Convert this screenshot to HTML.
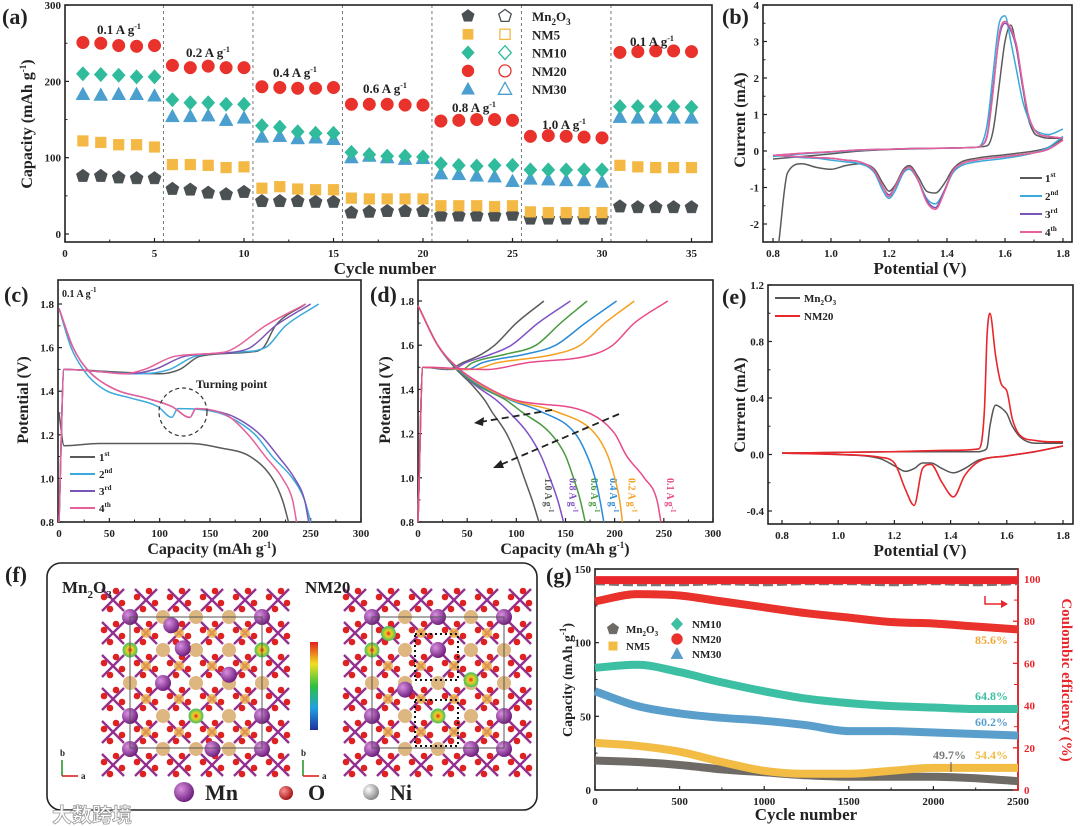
<!DOCTYPE html>
<html><head><meta charset="utf-8">
<style>
html,body{margin:0;padding:0;background:#fff;}
svg{display:block;}
</style></head>
<body>
<svg id="fig" width="1080" height="826" viewBox="0 0 1080 826" xmlns="http://www.w3.org/2000/svg">
<defs>
<linearGradient id="cbar" x1="0" y1="0" x2="0" y2="1">
<stop offset="0" stop-color="#e02020"/><stop offset="0.25" stop-color="#f0e020"/><stop offset="0.5" stop-color="#30c040"/><stop offset="0.75" stop-color="#20a0e0"/><stop offset="1" stop-color="#2030a0"/>
</linearGradient>
<radialGradient id="gMn" cx="0.35" cy="0.35" r="0.7"><stop offset="0" stop-color="#d890e0"/><stop offset="1" stop-color="#6a1a78"/></radialGradient>
<radialGradient id="gO" cx="0.35" cy="0.35" r="0.7"><stop offset="0" stop-color="#ff9090"/><stop offset="1" stop-color="#a01010"/></radialGradient>
<radialGradient id="gNi" cx="0.35" cy="0.35" r="0.7"><stop offset="0" stop-color="#ffffff"/><stop offset="1" stop-color="#808080"/></radialGradient>
<radialGradient id="gGreen" cx="0.5" cy="0.5" r="0.5"><stop offset="0" stop-color="#e02020"/><stop offset="0.4" stop-color="#f0d020"/><stop offset="1" stop-color="#40c060"/></radialGradient>
</defs>
</svg>
<script>
// ---------- Panel (a) data ----------
const aCycles = [1,2,3,4,5,6,7,8,9,10,11,12,13,14,15,16,17,18,19,20,21,22,23,24,25,26,27,28,29,30,31,32,33,34,35];
const aMn2O3 = [76,76,74,73,73,59,58,54,52,55,43,43,43,42,42,28,29,30,30,30,24,24,24,24,25,20,20,20,20,20,36,35,35,35,35];
const aNM5 = [122,120,117,117,114,91,91,90,87,88,60,62,59,58,58,47,46,46,46,46,37,37,37,36,37,29,28,28,28,28,90,88,87,87,87];
const aNM10 = [210,209,208,206,206,176,172,172,170,170,142,140,134,132,132,107,104,102,102,101,92,90,89,90,90,84,84,84,84,84,167,167,167,167,166];
const aNM20 = [251,250,247,246,247,221,218,220,218,218,193,192,191,191,192,170,170,170,169,169,148,149,150,150,149,128,129,128,127,126,238,239,240,240,239];
const aNM30 = [183,182,183,183,181,154,154,155,149,152,127,128,125,126,124,100,102,100,98,99,79,78,76,75,69,72,71,70,70,68,153,152,152,152,152];
const aRates = ["0.1","0.2","0.4","0.6","0.8","1.0","0.1"];
const aXTicks = [0,5,10,15,20,25,30,35];
const aYTicks = [0,100,200,300];

// ---------- Panel (b) data ----------
const bUpV = [0.8,0.9,1.0,1.1,1.2,1.3,1.4,1.5,1.52,1.54,1.56,1.58,1.6,1.62,1.64,1.66,1.68,1.7,1.72,1.75,1.8];
const bLowV = [1.8,1.75,1.7,1.6,1.5,1.45,1.42,1.39,1.36,1.33,1.3,1.27,1.25,1.22,1.2,1.18,1.15,1.1,1.05,1.0,0.95,0.9,0.85,0.82];
const bUp1 = [-0.22,-0.15,-0.08,0.0,0.04,0.06,0.08,0.1,0.12,0.15,0.6,1.8,3.0,3.45,2.8,1.8,0.9,0.5,0.4,0.35,0.35];
const bLow1 = [0.35,0.1,0.0,-0.1,-0.2,-0.3,-0.5,-0.9,-1.15,-1.1,-0.7,-0.4,-0.5,-0.95,-1.1,-0.9,-0.5,-0.35,-0.4,-0.5,-0.45,-0.35,-0.6,-2.5];
const bUp2 = [-0.15,-0.08,-0.03,0.02,0.05,0.07,0.08,0.1,0.2,0.8,2.2,3.5,3.7,3.0,2.2,1.4,0.9,0.6,0.5,0.45,0.6];
const bLow2 = [0.4,0.1,-0.05,-0.2,-0.3,-0.4,-0.6,-1.1,-1.45,-1.3,-0.8,-0.5,-0.6,-1.1,-1.3,-1.1,-0.6,-0.35,-0.3,-0.25,-0.2,-0.18,-0.15,-0.13];
const bUp3 = [-0.12,-0.06,-0.02,0.03,0.05,0.07,0.08,0.1,0.15,0.5,1.8,3.1,3.5,3.3,2.8,1.8,1.0,0.6,0.45,0.4,0.35];
const bLow3 = [0.3,0.05,-0.05,-0.15,-0.25,-0.35,-0.55,-1.1,-1.55,-1.35,-0.8,-0.45,-0.55,-1.0,-1.2,-1.0,-0.55,-0.3,-0.25,-0.2,-0.18,-0.16,-0.14,-0.12];
const bUp4 = [-0.12,-0.06,-0.02,0.03,0.05,0.07,0.08,0.1,0.15,0.45,1.7,3.2,3.55,3.35,2.9,1.9,1.0,0.6,0.45,0.4,0.35];
const bLow4 = [0.3,0.05,-0.05,-0.15,-0.25,-0.35,-0.55,-1.15,-1.6,-1.4,-0.8,-0.45,-0.55,-1.0,-1.25,-1.0,-0.55,-0.3,-0.25,-0.2,-0.18,-0.16,-0.14,-0.12];

// ---------- Panel (c) data ----------
const cDisV = [1.78,1.6,1.5,1.45,1.4,1.37,1.33,1.28,1.32,1.31,1.28,1.2,1.1,1.0,0.9,0.8];
const cDis2 = [0,12,24,33,48,70,98,112,118,150,170,195,212,232,244,250];
const cDis3 = [0,14,28,40,60,85,112,130,136,155,175,200,218,234,244,248];
const cDis4 = [0,14,28,40,60,85,112,130,136,155,170,188,205,222,232,236];
const cDis1V = [1.3,1.15,1.16,1.16,1.14,1.1,1.0,0.9,0.8];
const cDis1 = [0,5,40,130,160,190,212,222,228];
const cChV = [0.8,1.5,1.49,1.48,1.5,1.56,1.58,1.6,1.7,1.8];
const cCh1 = [0,5,50,100,120,140,190,203,215,245];
const cCh2 = [0,5,40,80,110,135,180,205,225,258];
const cCh3 = [0,5,40,70,95,125,175,190,215,250];
const cCh4 = [0,5,40,65,85,115,165,175,205,245];

// ---------- Panel (d) data ----------
const dDisV = [1.78,1.6,1.5,1.42,1.35,1.3,1.2,1.1,1.0,0.9,0.8];
const dDis10 = [0,20,37,55,68,75,90,100,108,116,123];
const dDis08 = [0,20,38,58,80,92,112,125,134,142,148];
const dDis06 = [0,20,38,60,90,105,135,150,158,165,170];
const dDis04 = [0,20,39,62,95,125,160,172,180,185,189];
const dDis02 = [0,20,40,64,97,140,180,193,200,205,208];
const dDis01 = [0,20,40,66,100,170,200,212,230,243,247];
const dChV = [0.8,1.5,1.49,1.52,1.56,1.6,1.7,1.8];
const dCh10 = [0,5,30,45,65,78,100,128];
const dCh08 = [0,5,35,48,75,95,122,155];
const dCh06 = [0,5,45,55,90,120,145,172];
const dCh04 = [0,5,50,65,110,140,170,202];
const dCh02 = [0,5,55,80,140,165,190,220];
const dCh01 = [0,5,70,110,180,198,220,254];
const dRates = ["1.0","0.8","0.6","0.4","0.2","0.1"];

// ---------- Panel (e) data ----------
const eUpV = [0.8,1.0,1.2,1.4,1.5,1.52,1.53,1.54,1.56,1.58,1.6,1.62,1.65,1.7,1.75,1.8];
const eUpNM20 = [0.01,0.015,0.02,0.03,0.04,0.3,0.85,1.0,0.7,0.5,0.45,0.25,0.13,0.1,0.09,0.09];
const eUpMn = [0.01,0.015,0.02,0.02,0.02,0.03,0.05,0.2,0.35,0.33,0.29,0.2,0.12,0.08,0.08,0.08];
const eLowV = [1.8,1.7,1.6,1.5,1.45,1.41,1.37,1.33,1.3,1.27,1.24,1.2,1.15,1.0,0.8];
const eLowNM20 = [0.06,0.02,-0.01,-0.05,-0.15,-0.3,-0.2,-0.07,-0.1,-0.36,-0.25,-0.06,-0.02,0.0,0.01];
const eLowMn = [0.06,0.02,-0.01,-0.04,-0.1,-0.13,-0.1,-0.06,-0.06,-0.1,-0.12,-0.08,-0.03,0.0,0.01];

// ---------- Panel (g) data ----------
const gCycles = [0,250,500,750,1000,1250,1500,1750,2000,2250,2500];
const gNM20 = [128,133,132,128,124,120,117,114,113,111,109];
const gNM10 = [83,85,80,73,67,62,59,57,56,55,55];
const gNM30 = [67,57,52,49,47,44,40,40,39,38,37];
const gNM5 = [32,30,26,19,13,11,11,13,15,15,15];
const gMn2O3 = [20,19,17,14,12,10,9,9,9,8,6];
const gCE20 = [99.5,99.5,99.5,99.5,99.5,99.5,99.5,99.5,99.5,99.5,99.5];
const gCEMn = [98,97.5,97.5,98,97.5,98,98,97.5,98,97.5,98];

const NS = "http://www.w3.org/2000/svg";
const svg = document.getElementById('fig');
function mk(tag, attrs, name, parent){
  const el = document.createElementNS(NS, tag);
  for (const k in attrs) el.setAttribute(k, attrs[k]);
  
  
  (parent || svg).appendChild(el);
  return el;
}
function txt(x, y, html, fs, name, opts){
  opts = opts || {};
  const a = {x:x, y:y, 'font-family':'"Liberation Serif", serif', 'font-weight':'bold', 'font-size':fs, fill:opts.fill||'#222'};
  if (opts.anchor) a['text-anchor'] = opts.anchor;
  if (opts.rot !== undefined) a.transform = `rotate(${opts.rot} ${x} ${y})`;
  const el = mk('text', a, name);
  el.innerHTML = html;
  return el;
}
const SUP1 = '<tspan dy="-6" font-size="9">-1</tspan>';
// monotone cubic (Fritsch-Carlson) in x; works for increasing or decreasing x
function smooth(p){
  const n = p.length;
  if (n < 3) return 'M'+p.map(q=>q[0].toFixed(1)+','+q[1].toFixed(1)).join('L');
  const dx=[], dy=[], m=[];
  for (let i=0;i<n-1;i++){ dx.push(p[i+1][0]-p[i][0]); dy.push(p[i+1][1]-p[i][1]); m.push(dx[i]===0?0:dy[i]/dx[i]); }
  const t=[m[0]];
  for (let i=1;i<n-1;i++){ t.push(m[i-1]*m[i]<=0 ? 0 : (m[i-1]+m[i])/2); }
  t.push(m[n-2]);
  for (let i=0;i<n-1;i++){
    if (m[i]===0){ t[i]=0; t[i+1]=0; continue; }
    const a=t[i]/m[i], b=t[i+1]/m[i], h=a*a+b*b;
    if (h>9){ const s=3/Math.sqrt(h); t[i]=s*a*m[i]; t[i+1]=s*b*m[i]; }
  }
  let d = `M${p[0][0].toFixed(1)},${p[0][1].toFixed(1)}`;
  for (let i=0;i<n-1;i++){
    const h = dx[i]/3;
    if (Math.abs(dx[i])<0.01){ d+=`L${p[i+1][0].toFixed(1)},${p[i+1][1].toFixed(1)}`; continue; }
    d += `C${(p[i][0]+h).toFixed(1)},${(p[i][1]+t[i]*h).toFixed(1)} ${(p[i+1][0]-h).toFixed(1)},${(p[i+1][1]-t[i+1]*h).toFixed(1)} ${p[i+1][0].toFixed(1)},${p[i+1][1].toFixed(1)}`;
  }
  return d;
}
function pts(xs, ys, X, Y){ return xs.map((v,i)=>[X(v), Y(ys[i])]); }
function axes(o){
  const [l,t,r,b] = o.box;
  mk('rect', {x:l, y:t, width:r-l, height:b-t, fill:'none', stroke:'#222', 'stroke-width':1.6}, o.name+'-frame');
  o.xticks.forEach((v,i)=>{
    const x = o.X(v);
    mk('line', {x1:x, y1:b, x2:x, y2:b-4, stroke:'#222', 'stroke-width':1.2}, o.name+'-x-tick');
    txt(x, b+15, o.xlab ? o.xlab[i] : String(v), 11, o.name+'-x-tick-label', {anchor:'middle'});
    if (i < o.xticks.length-1){
      const xm = (x + o.X(o.xticks[i+1]))/2;
      mk('line', {x1:xm, y1:b, x2:xm, y2:b-2.5, stroke:'#222', 'stroke-width':1}, o.name+'-x-minor-tick');
    }
  });
  o.yticks.forEach((v,i)=>{
    const y = o.Y(v);
    mk('line', {x1:l, y1:y, x2:l+4, y2:y, stroke:'#222', 'stroke-width':1.2}, o.name+'-y-tick');
    txt(l-4, y+4, o.ylab ? o.ylab[i] : String(v), 11, o.name+'-y-tick-label', {anchor:'end'});
    if (i < o.yticks.length-1){
      const ym = (y + o.Y(o.yticks[i+1]))/2;
      mk('line', {x1:l, y1:ym, x2:l+2.5, y2:ym, stroke:'#222', 'stroke-width':1}, o.name+'-y-minor-tick');
    }
  });
}
function marker(shape, x, y, s, color, filled, name){
  const f = filled ? color : 'none';
  const a = {fill:f, stroke:color, 'stroke-width': filled?0.5:1.3};
  let el;
  if (shape==='circle') el = mk('circle', Object.assign({cx:x, cy:y, r:s}, a), name);
  else if (shape==='square') el = mk('rect', Object.assign({x:x-s*0.85, y:y-s*0.85, width:s*1.7, height:s*1.7}, a), name);
  else {
    let p=[];
    if (shape==='diamond') p=[[0,-1.15],[1.05,0],[0,1.15],[-1.05,0]];
    if (shape==='triangle') p=[[0,-1.15],[1.1,0.85],[-1.1,0.85]];
    if (shape==='pentagon') for(let k=0;k<5;k++){const an=-Math.PI/2+k*2*Math.PI/5; p.push([Math.cos(an)*1.1,Math.sin(an)*1.1]);}
    el = mk('polygon', Object.assign({points:p.map(q=>`${x+q[0]*s},${y+q[1]*s}`).join(' ')}, a), name);
  }
  return el;
}

// ================= Panel (a) =================
const Xa = v=>65+v*17.9, Ya = v=>234-v*0.763;
[5.5,10.5,15.5,20.5,25.5,30.5].forEach(v=>{
  mk('line', {x1:Xa(v), y1:5, x2:Xa(v), y2:242, stroke:'#777', 'stroke-width':1, 'stroke-dasharray':'3,3'}, 'rate-divider');
});
axes({name:'panel-a', box:[65,5,712,242], X:Xa, Y:Ya, xticks:aXTicks, yticks:aYTicks});
const aSeries = [[aMn2O3,'pentagon','#4b5053','mn2o3'],[aNM5,'square','#f4b944','nm5'],[aNM30,'triangle','#4a9fcf','nm30'],[aNM10,'diamond','#2fbb9c','nm10'],[aNM20,'circle','#e8322b','nm20']];
aSeries.forEach(s=>{
  aCycles.forEach((c,i)=>{ marker(s[1], Xa(c), Ya(s[0][i]), 6.3, s[2], true, 'point-'+s[3]); });
});
const aRateX = [97,186,273,363,452,542,630], aRateY = [34,57,77,93,112,129,46];
aRates.forEach((r,i)=> txt(aRateX[i], aRateY[i], r+' A g'+'<tspan dy="-5" font-size="8">-1</tspan>', 13, 'rate-label'));
const legA = [['pentagon','#4b5053','Mn<tspan dy="4" font-size="9">2</tspan><tspan dy="-4">O</tspan><tspan dy="4" font-size="9">3</tspan>'],['square','#f4b944','NM5'],['diamond','#2fbb9c','NM10'],['circle','#e8322b','NM20'],['triangle','#4a9fcf','NM30']];
legA.forEach((e,i)=>{
  const y = 16+i*18.3;
  marker(e[0], 468, y, 6, e[1], true, 'legend-marker-filled');
  marker(e[0], 505, y, 6, e[1], false, 'legend-marker-open');
  txt(532, y+5, e[2], 13, 'legend-label');
});
txt(2, 24, '(a)', 22, 'panel-label-a');
txt(32, 124, 'Capacity (mAh g'+SUP1+'<tspan dy="6">)</tspan>', 16, 'y-axis-title-a', {anchor:'middle', rot:-90});
txt(385, 274, 'Cycle number', 17, 'x-axis-title-a', {anchor:'middle'});

// ================= Panel (b) =================
const Xb = v=>773+(v-0.8)*290, Yb = v=>151-v*36.5;
axes({name:'panel-b', box:[763,5,1072,242], X:Xb, Y:Yb, xticks:[0.8,1.0,1.2,1.4,1.6,1.8], xlab:['0.8','1.0','1.2','1.4','1.6','1.8'], yticks:[-2,-1,0,1,2,3,4]});
const bSets = [[bUp1,bLow1,'#5a5a5a','cv-cycle-1'],[bUp2,bLow2,'#3ba9d9','cv-cycle-2'],[bUp3,bLow3,'#7a55b8','cv-cycle-3'],[bUp4,bLow4,'#e6609a','cv-cycle-4']];
bSets.forEach(s=>{
  mk('path', {d:smooth(pts(bUpV,s[0],Xb,Yb)), fill:'none', stroke:s[2], 'stroke-width':1.5}, s[3]+'-anodic');
  mk('path', {d:smooth(pts(bLowV,s[1],Xb,Yb)), fill:'none', stroke:s[2], 'stroke-width':1.5}, s[3]+'-cathodic');
});
['1<tspan dy="-5" font-size="7">st</tspan>','2<tspan dy="-5" font-size="7">nd</tspan>','3<tspan dy="-5" font-size="7">rd</tspan>','4<tspan dy="-5" font-size="7">th</tspan>'].forEach((l,i)=>{
  const y = 178+i*18;
  mk('line', {x1:1020, y1:y, x2:1042, y2:y, stroke:bSets[i][2], 'stroke-width':2}, 'legend-line-b');
  txt(1045, y+4, l, 11, 'legend-label-b');
});
txt(722, 24, '(b)', 22, 'panel-label-b');
txt(745, 120, 'Current  (mA)', 16, 'y-axis-title-b', {anchor:'middle', rot:-90});
txt(920, 274, 'Potential (V)', 17, 'x-axis-title-b', {anchor:'middle'});

// ================= Panel (c) =================
const Xc = v=>59+v*1.0067, Yc = v=>522-(v-0.8)*218;
axes({name:'panel-c', box:[58,280,361,522], X:Xc, Y:Yc, xticks:[0,50,100,150,200,250,300], yticks:[0.8,1.0,1.2,1.4,1.6,1.8], ylab:['0.8','1.0','1.2','1.4','1.6','1.8']});
const cCols = ['#5a5a5a','#3ba9d9','#7a55b8','#e6609a'];
mk('path', {d:smooth(pts(cDis1,cDis1V,Xc,Yc)), fill:'none', stroke:cCols[0], 'stroke-width':1.5}, 'discharge-cycle-1');
[[cDis2,1],[cDis3,2],[cDis4,3]].forEach(s=> mk('path', {d:smooth(pts(s[0],cDisV,Xc,Yc)), fill:'none', stroke:cCols[s[1]], 'stroke-width':1.5}, 'discharge-cycle-'+(s[1]+1)));
[[cCh1,0],[cCh2,1],[cCh3,2],[cCh4,3]].forEach(s=> mk('path', {d:smooth(pts(s[0],cChV,Xc,Yc)), fill:'none', stroke:cCols[s[1]], 'stroke-width':1.5}, 'charge-cycle-'+(s[1]+1)));
mk('circle', {cx:183, cy:412, r:24, fill:'none', stroke:'#333', 'stroke-width':1.2, 'stroke-dasharray':'4,3'}, 'turning-point-circle');
txt(196, 388, 'Turning point', 12, 'turning-point-label');
txt(62, 297, '0.1 A g<tspan dy="-5" font-size="7">-1</tspan>', 10, 'rate-label-c');
['1<tspan dy="-5" font-size="7">st</tspan>','2<tspan dy="-5" font-size="7">nd</tspan>','3<tspan dy="-5" font-size="7">rd</tspan>','4<tspan dy="-5" font-size="7">th</tspan>'].forEach((l,i)=>{
  const y = 457+i*17;
  mk('line', {x1:70, y1:y, x2:95, y2:y, stroke:cCols[i], 'stroke-width':2}, 'legend-line-c');
  txt(99, y+4, l, 11, 'legend-label-c');
});
txt(4, 302, '(c)', 22, 'panel-label-c');
txt(28, 400, 'Potential (V)', 16, 'y-axis-title-c', {anchor:'middle', rot:-90});
txt(212, 554, 'Capacity (mAh g'+SUP1+'<tspan dy="6">)</tspan>', 16, 'x-axis-title-c', {anchor:'middle'});

// ================= Panel (d) =================
const Xd = v=>418+v*0.9833, Yd = v=>522-(v-0.8)*221;
axes({name:'panel-d', box:[418,280,713,522], X:Xd, Y:Yd, xticks:[0,50,100,150,200,250,300], yticks:[0.8,1.0,1.2,1.4,1.6,1.8], ylab:['0.8','1.0','1.2','1.4','1.6','1.8']});
const dCols = ['#5a5a5a','#8050c8','#4a9a40','#2a8ad8','#f5a020','#e84a8a'];
const dDis = [dDis10,dDis08,dDis06,dDis04,dDis02,dDis01], dCh = [dCh10,dCh08,dCh06,dCh04,dCh02,dCh01];
dRates.forEach((r,i)=>{
  mk('path', {d:smooth(pts(dDis[i],dDisV,Xd,Yd)), fill:'none', stroke:dCols[i], 'stroke-width':1.5}, 'discharge-'+r.replace('.','p'));
  mk('path', {d:smooth(pts(dCh[i],dChV,Xd,Yd)), fill:'none', stroke:dCols[i], 'stroke-width':1.5}, 'charge-'+r.replace('.','p'));
  const x = Xd(dDis[i][10])+6, y = 478;
  txt(x, y, r+' A g<tspan dy="-4" font-size="7">-1</tspan>', 10, 'rate-label-d', {fill:dCols[i], rot:90});
});
mk('line', {x1:552, y1:410, x2:480, y2:422, stroke:'#222', 'stroke-width':1.8, 'stroke-dasharray':'7,4'}, 'trend-arrow-1');
mk('polygon', {points:'474,423 484,417 483,426'}, 'trend-arrow-1-head').setAttribute('fill','#222');
mk('line', {x1:619, y1:414, x2:500, y2:465, stroke:'#222', 'stroke-width':1.8, 'stroke-dasharray':'7,4'}, 'trend-arrow-2');
mk('polygon', {points:'493,468 501,460 504,468'}, 'trend-arrow-2-head').setAttribute('fill','#222');
txt(370, 302, '(d)', 22, 'panel-label-d');
txt(390, 400, 'Potential (V)', 16, 'y-axis-title-d', {anchor:'middle', rot:-90});
txt(565, 554, 'Capacity (mAh g'+SUP1+'<tspan dy="6">)</tspan>', 16, 'x-axis-title-d', {anchor:'middle'});

// ================= Panel (e) =================
const Xe = v=>782+(v-0.8)*281, Ye = v=>454.5-v*141.25;
axes({name:'panel-e', box:[768,285,1073,524], X:Xe, Y:Ye, xticks:[0.8,1.0,1.2,1.4,1.6,1.8], xlab:['0.8','1.0','1.2','1.4','1.6','1.8'], yticks:[-0.4,0,0.4,0.8,1.2], ylab:['-0.4','0.0','0.4','0.8','1.2']});
mk('path', {d:smooth(pts(eUpV,eUpMn,Xe,Ye)), fill:'none', stroke:'#555', 'stroke-width':1.5}, 'cv-mn2o3-anodic');
mk('path', {d:smooth(pts(eLowV,eLowMn,Xe,Ye)), fill:'none', stroke:'#555', 'stroke-width':1.5}, 'cv-mn2o3-cathodic');
mk('path', {d:smooth(pts(eUpV,eUpNM20,Xe,Ye)), fill:'none', stroke:'#e8262b', 'stroke-width':1.6}, 'cv-nm20-anodic');
mk('path', {d:smooth(pts(eLowV,eLowNM20,Xe,Ye)), fill:'none', stroke:'#e8262b', 'stroke-width':1.6}, 'cv-nm20-cathodic');
mk('line', {x1:775, y1:298, x2:800, y2:298, stroke:'#555', 'stroke-width':2}, 'legend-line-mn2o3');
txt(804, 302, 'Mn<tspan dy="3" font-size="7">2</tspan><tspan dy="-3">O</tspan><tspan dy="3" font-size="7">3</tspan>', 11, 'legend-label-mn2o3');
mk('line', {x1:775, y1:316, x2:800, y2:316, stroke:'#e8262b', 'stroke-width':2}, 'legend-line-nm20');
txt(804, 320, 'NM20', 11, 'legend-label-nm20');
txt(722, 304, '(e)', 22, 'panel-label-e');
txt(745, 405, 'Current  (mA)', 16, 'y-axis-title-e', {anchor:'middle', rot:-90});
txt(920, 556, 'Potential (V)', 17, 'x-axis-title-e', {anchor:'middle'});

// ================= Panel (f) =================
mk('rect', {x:47, y:563, width:490, height:247, rx:14, fill:'#fff', stroke:'#222', 'stroke-width':1.6}, 'structure-box');
function crystal(cl, ct, mnList, greenList, name){
  const g = mk('g', {}, name);
  const s = 33;
  for (let i=-1;i<=4;i++) for (let j=-1;j<=4;j++){
    const x = cl+s*i+16, y = ct+s*j+16;
    mk('line', {x1:x-11, y1:y-11, x2:x+11, y2:y+11, stroke:'#93308f', 'stroke-width':2.4}, 'mn-o-bond', g);
    mk('line', {x1:x+11, y1:y-11, x2:x-11, y2:y+11, stroke:'#93308f', 'stroke-width':2.4}, 'mn-o-bond', g);
  }
  for (let i=-1;i<=4;i++) for (let j=-1;j<=4;j++){
    const x = cl+s*i+16, y = ct+s*j+16;
    [[-9,-3],[9,3],[-3,9],[3,-9]].forEach(o=> mk('circle', {cx:x+o[0], cy:y+o[1], r:3.3, fill:'#de2222'}, 'oxygen-atom', g));
  }
  for (let i=0;i<=4;i++) for (let j=0;j<=4;j++){
    mk('circle', {cx:cl+s*i, cy:ct+s*j, r:7, fill:'#ddb680'}, 'cation-site', g);
  }
  for (let i=0;i<4;i++) for (let j=0;j<4;j++){
    mk('circle', {cx:cl+s*i+16, cy:ct+s*j+16, r:5, fill:'#f0b040', opacity:0.8}, 'cation-site', g);
  }
  mnList.forEach(p=> mk('circle', {cx:cl+p[0]*s, cy:ct+p[1]*s, r:8, fill:'url(#gMn)'}, 'mn-atom', g));
  greenList.forEach(p=> mk('circle', {cx:cl+p[0]*s, cy:ct+p[1]*s, r:7.5, fill:'url(#gGreen)'}, 'ni-site', g));
  mk('rect', {x:cl, y:ct, width:132, height:131, fill:'none', stroke:'#555', 'stroke-width':1}, 'unit-cell', g);
}
crystal(130, 617, [[0,0],[1.25,0.25],[4,0],[0,3],[1,2],[3,1.75],[4,3],[0,4],[4,4],[2.5,4],[1.6,0.95]], [[2,3],[0,1],[4,1]], 'mn2o3-structure');
crystal(372, 617, [[0,0],[2,0],[4,0],[0,3],[1,2.2],[2,1],[4,3],[3,4],[0,4],[4,4]], [[0.5,0.5],[3,1.9],[2,3],[0,1]], 'nm20-structure');
mk('rect', {x:415, y:634, width:43, height:46, fill:'none', stroke:'#111', 'stroke-width':2, 'stroke-dasharray':'2,3'}, 'highlight-box-1');
mk('rect', {x:415, y:700, width:43, height:46, fill:'none', stroke:'#111', 'stroke-width':2, 'stroke-dasharray':'2,3'}, 'highlight-box-2');
mk('rect', {x:310, y:642, width:8, height:88, fill:'url(#cbar)'}, 'color-bar');
txt(62, 593, 'Mn<tspan dy="5" font-size="11">2</tspan><tspan dy="-5">O</tspan><tspan dy="5" font-size="11">3</tspan>', 17, 'label-mn2o3');
txt(305, 593, 'NM20', 17, 'label-nm20');
[[62,'axes-indicator-left'],[303,'axes-indicator-right']].forEach(a=>{
  const x=a[0];
  mk('line', {x1:x, y1:776, x2:x, y2:760, stroke:'#2a9a2a', 'stroke-width':1.6}, a[1]+'-b');
  mk('line', {x1:x, y1:776, x2:x+16, y2:776, stroke:'#e02020', 'stroke-width':1.6}, a[1]+'-a');
  txt(x-2, 756, 'b', 9, a[1]+'-b-label');
  txt(x+19, 779, 'a', 9, a[1]+'-a-label');
});
mk('circle', {cx:184, cy:792, r:10, fill:'url(#gMn)'}, 'legend-mn-sphere');
txt(205, 800, 'Mn', 22, 'legend-mn-label');
mk('circle', {cx:286, cy:793, r:7, fill:'url(#gO)'}, 'legend-o-sphere');
txt(308, 800, 'O', 22, 'legend-o-label');
mk('circle', {cx:371, cy:792, r:8, fill:'url(#gNi)'}, 'legend-ni-sphere');
txt(390, 800, 'Ni', 22, 'legend-ni-label');
txt(5, 582, '(f)', 22, 'panel-label-f');
const wm = mk('text', {x:52, y:822, 'font-family':'"Liberation Sans","Noto Sans CJK SC",sans-serif', 'font-size':20, 'font-weight':'bold', fill:'#ffffff', stroke:'#9a9a9a', 'stroke-width':0.8}, 'watermark');
wm.textContent = '大数跨境';

// ================= Panel (g) =================
const Xg = v=>595+v*0.1692, Yg = v=>790-v*1.4733, Yr = v=>790-v*2.11;
axes({name:'panel-g', box:[595,569,1018,790], X:Xg, Y:Yg, xticks:[0,500,1000,1500,2000,2500], yticks:[0,50,100,150]});
mk('line', {x1:1018, y1:569, x2:1018, y2:790, stroke:'#e8262b', 'stroke-width':1.8}, 'right-axis-line');
[0,20,40,60,80,100].forEach((v,i,arr)=>{
  mk('line', {x1:1018, y1:Yr(v), x2:1013, y2:Yr(v), stroke:'#e8262b', 'stroke-width':1.3}, 'right-y-tick');
  txt(1024, Yr(v)+4, String(v), 11, 'right-y-tick-label', {fill:'#e8262b'});
  if (i<arr.length-1) mk('line', {x1:1018, y1:Yr(v+10), x2:1014, y2:Yr(v+10), stroke:'#e8262b', 'stroke-width':1}, 'right-y-minor-tick');
});
const gSets = [[gMn2O3,'#6e6a66','capacity-mn2o3'],[gNM5,'#f2bc45','capacity-nm5'],[gNM30,'#5a9fcc','capacity-nm30'],[gNM10,'#3cbfa2','capacity-nm10'],[gNM20,'#e8322b','capacity-nm20']];
gSets.forEach(s=> mk('path', {d:smooth(pts(gCycles,s[0],Xg,Yg)), fill:'none', stroke:s[1], 'stroke-width':8, 'stroke-linecap':'butt'}, s[2]));
mk('path', {d:smooth(pts(gCycles,gCEMn,Xg,Yr)), fill:'none', stroke:'#777', 'stroke-width':4, 'stroke-dasharray':'10,4'}, 'ce-mn2o3');
mk('path', {d:smooth(pts(gCycles,gCE20,Xg,Yr)), fill:'none', stroke:'#e8262b', 'stroke-width':8}, 'ce-nm20');
mk('path', {d:'M985,596 L985,604 L1003,604', fill:'none', stroke:'#e8262b', 'stroke-width':1.5}, 'ce-axis-arrow');
mk('polygon', {points:'1008,604 1001,600 1001,608', fill:'#e8262b'}, 'ce-axis-arrow-head');
marker('pentagon', 613, 629, 5.5, '#6e6a66', true, 'legend-g-mn2o3');
txt(626, 633, 'Mn<tspan dy="3" font-size="7">2</tspan><tspan dy="-3">O</tspan><tspan dy="3" font-size="7">3</tspan>', 11, 'legend-g-mn2o3-label');
marker('square', 613, 646, 5, '#f2bc45', true, 'legend-g-nm5');
txt(626, 650, 'NM5', 11, 'legend-g-nm5-label');
marker('diamond', 677, 624, 5.5, '#3cbfa2', true, 'legend-g-nm10');
txt(692, 628, 'NM10', 11, 'legend-g-nm10-label');
marker('circle', 677, 639, 5.5, '#e8322b', true, 'legend-g-nm20');
txt(692, 643, 'NM20', 11, 'legend-g-nm20-label');
marker('triangle', 677, 654, 5.5, '#5a9fcc', true, 'legend-g-nm30');
txt(692, 658, 'NM30', 11, 'legend-g-nm30-label');
txt(1008, 644, '85.6%', 12, 'retention-nm20', {fill:'#f2a83a', anchor:'end'});
txt(1008, 700, '64.8%', 12, 'retention-nm10', {fill:'#3cbfa2', anchor:'end'});
txt(1008, 726, '60.2%', 12, 'retention-nm30', {fill:'#5a9fcc', anchor:'end'});
txt(1008, 759, '54.4%', 12, 'retention-nm5', {fill:'#f2bc45', anchor:'end'});
txt(966, 759, '49.7%', 12, 'retention-mn2o3', {fill:'#777', anchor:'end'});
mk('line', {x1:951, y1:772, x2:951, y2:762, stroke:'#555', 'stroke-width':1}, 'retention-pointer');
txt(546, 583, '(g)', 22, 'panel-label-g');
txt(572, 680, 'Capacity (mAh g'+SUP1+'<tspan dy="6">)</tspan>', 14, 'y-axis-title-g', {anchor:'middle', rot:-90});
txt(1062, 680, 'Coulombic efficiency (%)', 15, 'y2-axis-title-g', {anchor:'middle', rot:90, fill:'#e8262b'});
txt(806, 820, 'Cycle number', 17, 'x-axis-title-g', {anchor:'middle'});
</script>
</body></html>
